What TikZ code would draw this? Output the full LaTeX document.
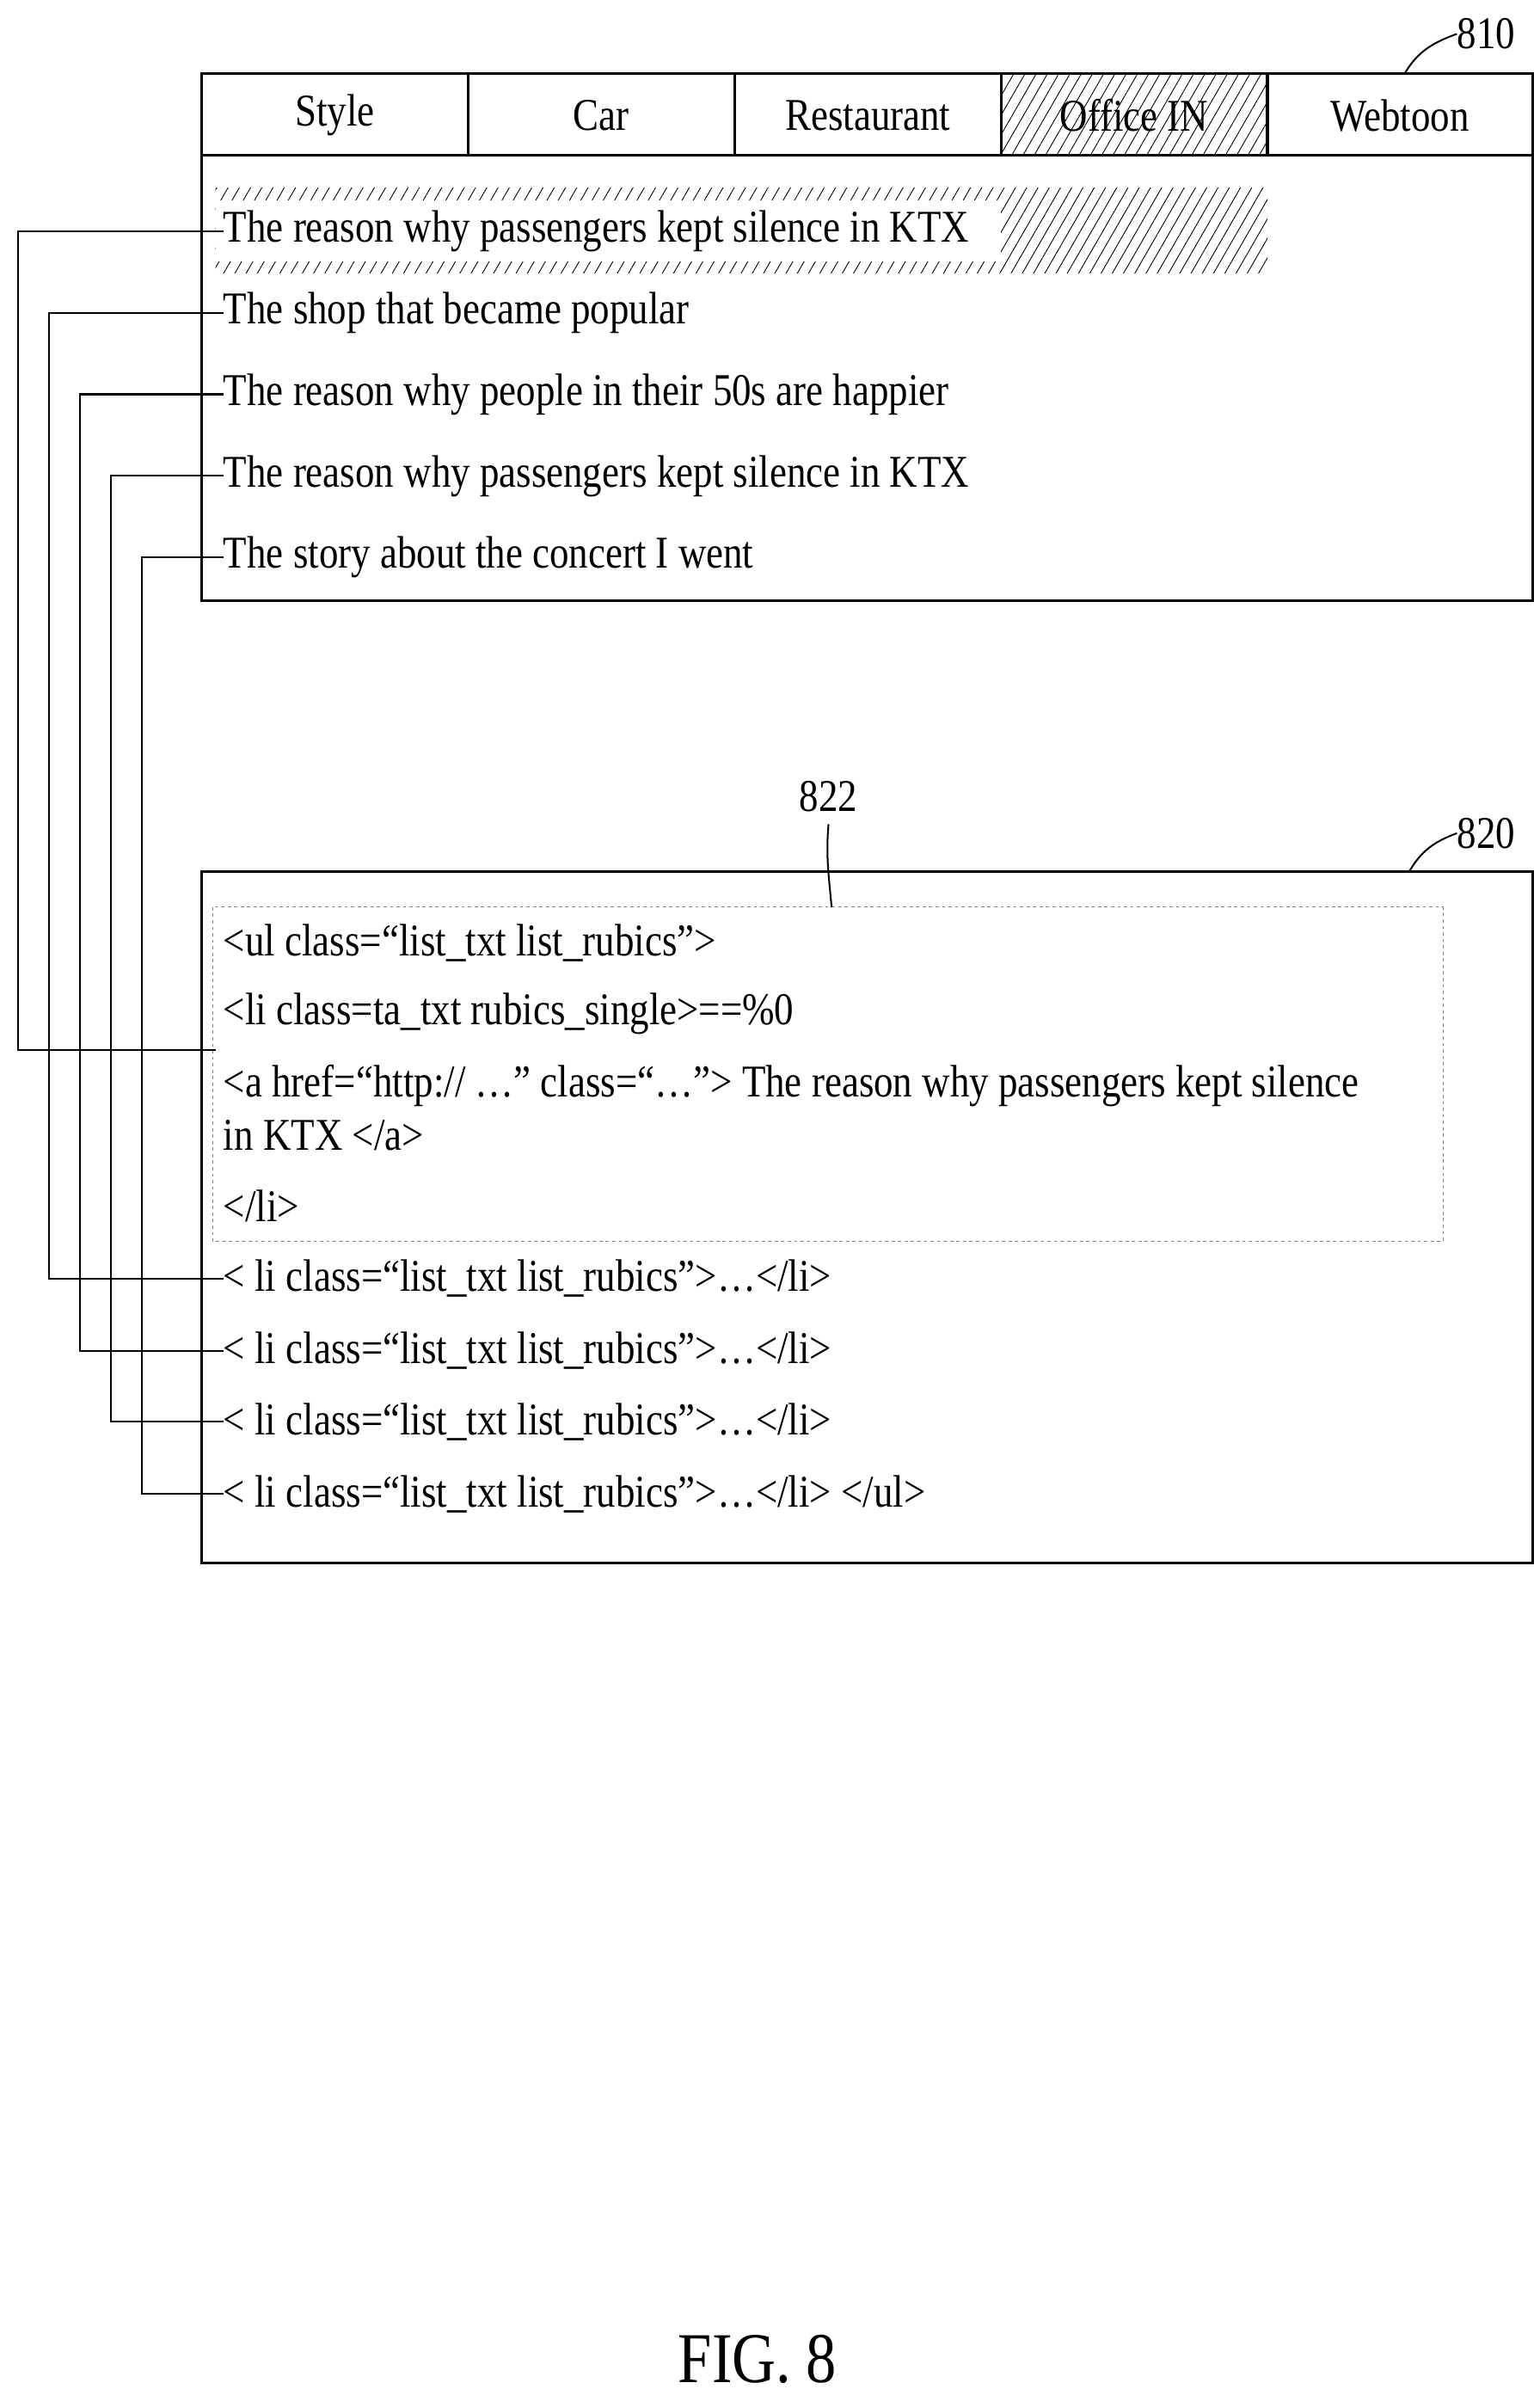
\documentclass[tikz,border=0pt]{standalone}
\usepackage{fontspec}
\setmainfont{Liberation Serif}[FakeStretch=0.85]
\usetikzlibrary{patterns.meta}
\tikzset{
  txt/.style={inner sep=0pt, anchor=west, font=\fontsize{42}{50}\selectfont},
  tab/.style={inner sep=0pt, font=\fontsize{42}{50}\selectfont},
  lbl/.style={inner sep=0pt, font=\fontsize{42}{50}\selectfont},
  box/.style={line width=2.4pt},
  wire/.style={line width=1.6pt},
  hatch/.style={pattern={Lines[angle=60, distance=9pt, line width=0.7pt]}}
}
\begin{document}
\begin{tikzpicture}[x=0.05cm, y=-0.05cm]
\useasboundingbox (0,0) rectangle (1000,1555);
% upper screen
\fill[hatch] (650,48) rectangle (823,101);
\fill[hatch] (140,122) rectangle (823,177);
\fill[white] (140,130) rectangle (650,170);
\draw[box] (131,48) rectangle (995,390);
\draw[box] (131,101) -- (995,101);
\foreach \x in {304,477,650,823} \draw[box] (\x,48) -- (\x,101);
\node[tab] (t1) at (217.5,75) {Style};
\node[tab] (t2) at (390.5,75) {Car};
\node[tab] (t3) at (563.5,75) {Restaurant};
\node[tab] (t4) at (736.5,75) {Office IN};
\node[tab] (t5) at (909,75) {Webtoon};
\node[txt] (a1) at (145,150) {The reason why passengers kept silence in KTX};
\node[txt] (a2) at (145,203) {The shop that became popular};
\node[txt] (a3) at (145,256) {The reason why people in their 50s are happier};
\node[txt] (a4) at (145,309) {The reason why passengers kept silence in KTX};
\node[txt] (a5) at (145,362) {The story about the concert I went};
\node[lbl] (n810) at (965,22) {810};
\draw[wire] (912,48) to[out=60, in=200] (n810.west);
% lower source
\draw[box] (131,566) rectangle (995,1015);
\draw[dashed, line width=0.8pt, gray] (138,589) rectangle (937,806);
\node[lbl] (n820) at (965,541) {820};
\draw[wire] (915,566) to[out=60, in=200] (n820.west);
\node[lbl] (n822) at (538,517) {822};
\coordinate (c822) at (540,589);
\draw[wire] (n822.south) ++(0,8) to[out=-95, in=95] (c822);
\node[txt] (b1) at (145,612) {<ul class=“list\_txt list\_rubics”>};
\node[txt] (b2) at (145,658) {<li class=ta\_txt rubics\_single>==\%0};
\node[txt] (b3) at (145,705) {<a href=“http:// …” class=“…”> The reason why passengers kept silence};
\node[txt] (b4) at (145,737) {in KTX </a>};
\node[txt] (b5) at (145,783) {</li>};
\node[txt] (b6) at (145,830) {< li class=“list\_txt list\_rubics”>…</li>};
\node[txt] (b7) at (145,877) {< li class=“list\_txt list\_rubics”>…</li>};
\node[txt] (b8) at (145,923) {< li class=“list\_txt list\_rubics”>…</li>};
\node[txt] (b9) at (145,970) {< li class=“list\_txt list\_rubics”>…</li> </ul>};
\coordinate (d3) at (140,682);
% links
\draw[wire] (a1.west) -- (12,150) |- (d3);
\draw[wire] (a2.west) -- (32,203) |- (b6.west);
\draw[wire] (a3.west) -- (52,256) |- (b7.west);
\draw[wire] (a4.west) -- (72,309) |- (b8.west);
\draw[wire] (a5.west) -- (92,362) |- (b9.west);
\node[inner sep=0pt, font=\fontsize{66}{78}\selectfont] (fig) at (492,1532) {FIG. 8};
\end{tikzpicture}
\end{document}
